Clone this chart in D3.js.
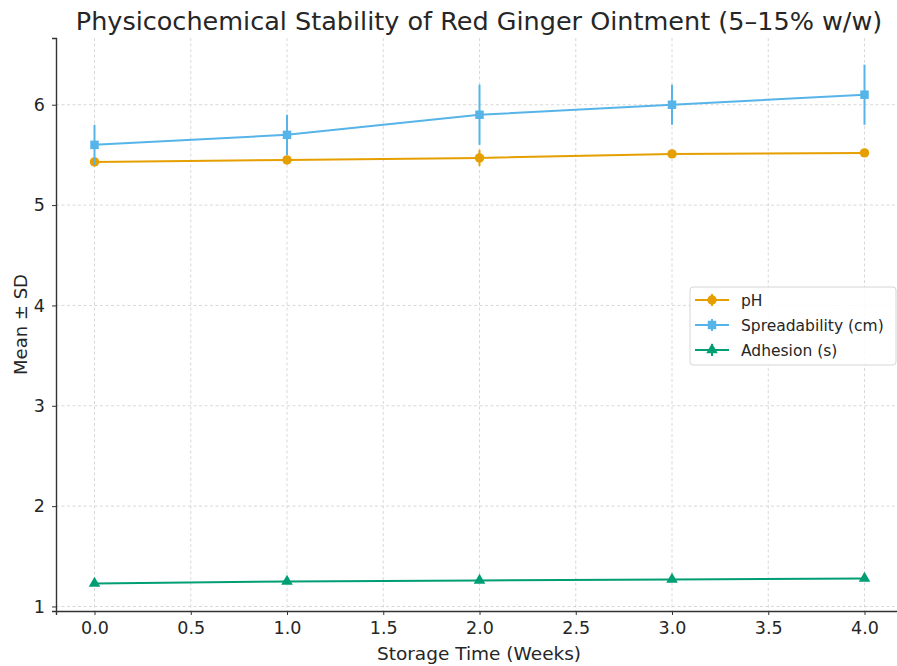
<!DOCTYPE html>
<html>
<head>
<meta charset="utf-8">
<script src="https://cdn.jsdelivr.net/npm/d3@7"></script>
<style>
  body { margin: 0; background: #fff; }
  svg text { font-family: "DejaVu Sans", sans-serif; fill: #262626; }
</style>
</head>
<body>
<div id="chart"></div>
<script>
// data
var weeks = [0, 1, 2, 3, 4];
var xTicks = [0, 0.5, 1, 1.5, 2, 2.5, 3, 3.5, 4];
var yTicks = [1, 2, 3, 4, 5, 6];

var phMean = [5.43, 5.45, 5.47, 5.51, 5.52];
var phSd = [0.04, 0.04, 0.08, 0.03, 0.03];
var spreadMean = [5.6, 5.7, 5.9, 6.0, 6.1];
var spreadSd = [0.2, 0.2, 0.3, 0.2, 0.3];
var adhesionMean = [1.23, 1.25, 1.26, 1.27, 1.28];
var adhesionSd = [0.02, 0.02, 0.02, 0.02, 0.02];

var seriesNames = ["pH", "Spreadability (cm)", "Adhesion (s)"];

var series = [
  {name: seriesNames[0], mean: phMean, sd: phSd, color: "#E69F00", marker: "circle"},
  {name: seriesNames[1], mean: spreadMean, sd: spreadSd, color: "#56B4E9", marker: "square"},
  {name: seriesNames[2], mean: adhesionMean, sd: adhesionSd, color: "#009E73", marker: "triangle"}
];

var width = 897, height = 666;
var margin = {top: 38, right: 0, bottom: 55, left: 56};
var plotW = 903 - margin.left, plotH = height - margin.top - margin.bottom;

var svg = d3.select("#chart").append("svg")
    .attr("width", width)
    .attr("height", height);

var g = svg.append("g")
    .attr("transform", "translate(" + margin.left + "," + margin.top + ")");

var x = d3.scaleLinear().domain([-0.2, 4.2]).range([0, plotW]);
var y = d3.scaleLinear().domain([0.955, 6.665]).range([plotH, 0]);

// grid
g.append("g").selectAll("line.gx")
    .data(xTicks).enter().append("line")
    .attr("x1", function (d) { return x(d); })
    .attr("x2", function (d) { return x(d); })
    .attr("y1", 0).attr("y2", plotH)
    .attr("stroke", "#cfcfcf").attr("stroke-width", 0.8)
    .attr("stroke-dasharray", "3,2.5");

g.append("g").selectAll("line.gy")
    .data(yTicks).enter().append("line")
    .attr("y1", function (d) { return y(d); })
    .attr("y2", function (d) { return y(d); })
    .attr("x1", 0).attr("x2", plotW)
    .attr("stroke", "#cfcfcf").attr("stroke-width", 0.8)
    .attr("stroke-dasharray", "3,2.5");

// axes
var xAxis = d3.axisBottom(x).tickValues(xTicks).tickFormat(d3.format(".1f")).tickSize(4).tickPadding(7);
var yAxis = d3.axisLeft(y).tickValues(yTicks).tickFormat(d3.format("d")).tickSize(4).tickPadding(7);

var gx = g.append("g").attr("transform", "translate(0," + plotH + ")").call(xAxis);
var gy = g.append("g").call(yAxis);

[gx, gy].forEach(function (ax) {
  ax.select(".domain").attr("stroke", "#333").attr("stroke-width", 1.4);
  ax.selectAll(".tick line").attr("stroke", "#333").attr("stroke-width", 1);
  ax.selectAll(".tick text").attr("font-size", "17.5px").attr("fill", "#262626")
    .attr("font-family", "DejaVu Sans, sans-serif");
});

// lines, error bars, markers
var line = d3.line()
    .x(function (d) { return x(d.w); })
    .y(function (d) { return y(d.m); });

function markerPath(type) {
  if (type === "circle") return d3.symbol().type(d3.symbolCircle).size(70)();
  if (type === "square") return d3.symbol().type(d3.symbolSquare).size(72)();
  return d3.symbol().type(d3.symbolTriangle).size(58)();
}

series.forEach(function (s) {
  var pts = weeks.map(function (w, i) { return {w: w, m: s.mean[i], sd: s.sd[i]}; });
  var sg = g.append("g");

  sg.selectAll("line.err").data(pts).enter().append("line")
      .attr("x1", function (d) { return x(d.w); })
      .attr("x2", function (d) { return x(d.w); })
      .attr("y1", function (d) { return y(d.m - d.sd); })
      .attr("y2", function (d) { return y(d.m + d.sd); })
      .attr("stroke", s.color).attr("stroke-width", 2);

  sg.append("path").datum(pts)
      .attr("d", line)
      .attr("fill", "none")
      .attr("stroke", s.color)
      .attr("stroke-width", 2);

  sg.selectAll("path.mk").data(pts).enter().append("path")
      .attr("d", markerPath(s.marker))
      .attr("transform", function (d) { return "translate(" + x(d.w) + "," + y(d.m) + ")"; })
      .attr("fill", s.color);
});

// title and labels
svg.append("text")
    .attr("x", 479).attr("y", 30)
    .attr("text-anchor", "middle")
    .attr("font-size", "25.5px")
    .text("Physicochemical Stability of Red Ginger Ointment (5–15% w/w)");

svg.append("text")
    .attr("x", 479).attr("y", 660)
    .attr("text-anchor", "middle")
    .attr("font-size", "18.5px")
    .text("Storage Time (Weeks)");

svg.append("text")
    .attr("transform", "translate(27," + (margin.top + plotH / 2) + ") rotate(-90)")
    .attr("text-anchor", "middle")
    .attr("font-size", "18px")
    .text("Mean ± SD");

// legend
var legend = svg.append("g").attr("transform", "translate(690,287)");
legend.append("rect")
    .attr("width", 206).attr("height", 78).attr("rx", 3)
    .attr("fill", "#fff").attr("fill-opacity", 0.85)
    .attr("stroke", "#d6d6d6").attr("stroke-width", 1);

var items = legend.selectAll("g.item").data(series).enter().append("g")
    .attr("transform", function (d, i) { return "translate(0," + (13 + i * 25) + ")"; });

items.append("line")
    .attr("x1", 5).attr("x2", 39).attr("y1", 0).attr("y2", 0)
    .attr("stroke", function (d) { return d.color; }).attr("stroke-width", 2);
items.append("line")
    .attr("x1", 22).attr("x2", 22).attr("y1", -6).attr("y2", 6)
    .attr("stroke", function (d) { return d.color; }).attr("stroke-width", 2);
items.append("path")
    .attr("d", function (d) { return markerPath(d.marker); })
    .attr("transform", "translate(22,0)")
    .attr("fill", function (d) { return d.color; });
items.append("text")
    .attr("x", 51).attr("y", 5.5)
    .attr("font-size", "15.5px")
    .text(function (d) { return d.name; });
</script>
</body>
</html>
